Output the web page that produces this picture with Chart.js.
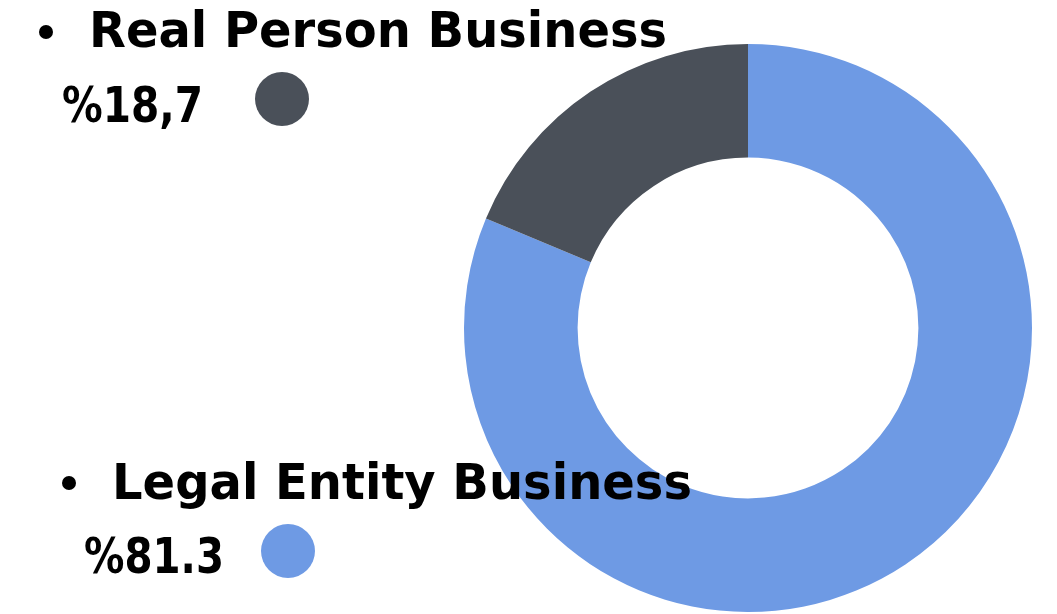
<!DOCTYPE html>
<html>
<head>
<meta charset="utf-8">
<script src="https://cdn.jsdelivr.net/npm/chart.js@4"></script>
<style>
  html, body { margin: 0; padding: 0; background: #fff; }
  #wrap { width: 1057px; height: 614px; position: relative; }
</style>
</head>
<body>
<div id="wrap"><canvas id="chart"></canvas></div>
<script>
const labels = ['Legal Entity Business', 'Real Person Business'];
const values = [81.3, 18.7];
const valueTexts = ['%81.3', '%18,7'];
const colors = ['#6e9ae4', '#4a5059'];

// where each legend block sits (title baseline / value baseline)
const legendSpots = [
  { bulletX: 69, bulletY: 483, titleX: 112, titleY: 499, titleW: 580, valX: 84, valY: 573, valW: 140, dotX: 288, dotY: 551 },
  { bulletX: 46, bulletY: 32, titleX: 89, titleY: 47, titleW: 578, valX: 62, valY: 122, valW: 141, dotX: 282, dotY: 99 }
];

function fitText(ctx, text, x, y, w, size) {
  ctx.font = `bold ${size}px "DejaVu Sans", sans-serif`;
  const m = ctx.measureText(text).width;
  ctx.save();
  ctx.translate(x, y);
  ctx.scale(w / m, 1);
  ctx.fillText(text, 0, 0);
  ctx.restore();
}

const legendText = {
  id: 'legendText',
  afterDraw(chart) {
    const ctx = chart.ctx;
    ctx.save();
    ctx.fillStyle = '#000';
    ctx.textBaseline = 'alphabetic';
    labels.forEach((lab, i) => {
      const s = legendSpots[i];
      ctx.fillStyle = '#000';
      ctx.beginPath();
      ctx.arc(s.bulletX, s.bulletY, 7, 0, Math.PI * 2);
      ctx.fill();
      fitText(ctx, lab, s.titleX, s.titleY, s.titleW, 49);
      fitText(ctx, valueTexts[i], s.valX, s.valY, s.valW, 49);
      ctx.fillStyle = colors[i];
      ctx.beginPath();
      ctx.arc(s.dotX, s.dotY, 27, 0, Math.PI * 2);
      ctx.fill();
    });
    ctx.restore();
  }
};

new Chart(document.getElementById('chart'), {
  type: 'doughnut',
  data: {
    labels,
    datasets: [{
      data: values,
      backgroundColor: colors,
      borderWidth: 0,
      hoverOffset: 0
    }]
  },
  options: {
    responsive: true,
    maintainAspectRatio: false,
    animation: false,
    cutout: '60%',
    layout: { padding: { left: 464, right: 25, top: 44, bottom: 2 } },
    plugins: { legend: { display: false }, tooltip: { enabled: false } }
  },
  plugins: [legendText]
});
</script>
</body>
</html>
